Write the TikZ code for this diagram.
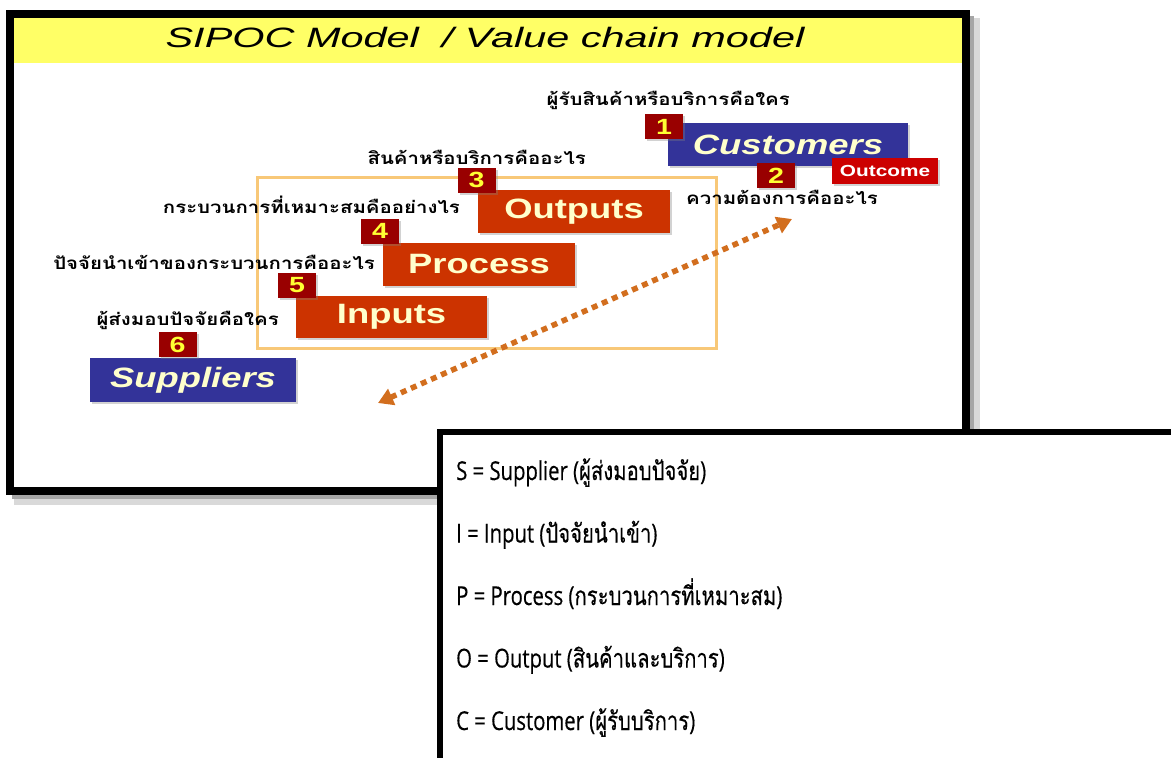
\documentclass[tikz,border=0pt]{standalone}
\usepackage{fontspec}
\setmainfont{Liberation Sans}
\newfontfamily\thaifont[Script=Thai]{Loma}
\newfontfamily\thaileg[Script=Thai,FakeBold=0.4]{Loma}
\newfontfamily\legfont[FakeBold=0.4]{Open Sans}
\usetikzlibrary{arrows.meta,shadows}
\definecolor{sred}{RGB}{204,51,0}
\definecolor{sblue}{RGB}{51,51,153}
\definecolor{numred}{RGB}{153,0,0}
\definecolor{numyel}{RGB}{255,255,51}
\definecolor{cream}{RGB}{255,255,204}
\definecolor{ored}{RGB}{204,0,0}
\definecolor{frameor}{RGB}{248,200,120}
\definecolor{arrowor}{RGB}{210,110,30}
\definecolor{titleyel}{RGB}{255,255,102}
\newcommand\hs[1]{\scalebox{1.3}[1]{#1}}
\newcommand\ths[1]{\scalebox{1.2}[1]{#1}}
\newcommand\tht[1]{{\thaileg\fontsize{26}{28}\selectfont #1}}
\tikzset{
  slidebox/.style={inner sep=0, drop shadow={shadow xshift=2pt, shadow yshift=-2pt, opacity=0.35}},
  redbox/.style={slidebox, fill=sred, text=cream, font=\bfseries\fontsize{28}{30}\selectfont, minimum width=192, minimum height=43},
  bluebox/.style={slidebox, fill=sblue, text=cream, font=\bfseries\itshape\fontsize{28}{30}\selectfont, minimum height=43},
  numbox/.style={slidebox, fill=numred, text=numyel, font=\bfseries\fontsize{22}{22}\selectfont, minimum width=38, minimum height=25},
  thlab/.style={inner sep=0, font=\thaifont\bfseries\fontsize{17}{18}\selectfont},
  legtext/.style={inner sep=0, anchor=base west, font=\legfont\fontsize{26}{28}\selectfont},
  arrowline/.style={draw=arrowor, line width=5.5, dash pattern=on 6pt off 5pt,
     {Triangle[length=15pt,width=17pt]}-{Triangle[length=15pt,width=17pt]}}
}
\begin{document}
\begin{tikzpicture}[x=1pt,y=-1pt]
\useasboundingbox (0,0) rectangle (1171,758);
\clip (0,0) rectangle (1171,758);
\fill[white] (0,0) rectangle (1171,758);
% main slide frame shadow
\fill[black!35] (970,16) rectangle (974,499);
\fill[black!15] (974,18) rectangle (980,501);
\fill[black!35] (12,495) rectangle (974,499);
\fill[black!15] (14,499) rectangle (980,505);
% slide
\fill[white] (10,14) rectangle (966,491);
\fill[titleyel] (14,17) rectangle (962,63);
\draw[line width=8] (10,14) rectangle (966,491);
\node[inner sep=0, font=\itshape\fontsize{28}{30}\selectfont] (title) at (485,37)
  {\scalebox{1.48}[1]{SIPOC Model\ \ / Value chain model}};
% orange frame
\draw[frameor, line width=3] (257,177) rectangle (716,348);
% boxes
\node[bluebox, minimum width=206, minimum height=44] (sup) at (193,380) {\hs{Suppliers}};
\node[redbox, minimum width=191, minimum height=42] (inp) at (391.5,317) {\hs{Inputs}};
\node[redbox] (pro) at (479,264.5) {\hs{Process}};
\node[redbox] (out) at (574,211.5) {\hs{Outputs}};
\node[bluebox, minimum width=240] (cus) at (788,144.5) {\hs{Customers}};
\node[slidebox, fill=ored, text=white, font=\bfseries\fontsize{16}{18}\selectfont, minimum width=106, minimum height=26] (outc) at (885,171) {\scalebox{1.3}[1]{Outcome}};
% numbers
\node[numbox] (n1) at (664,126.5) {\hs{1}};
\node[numbox] (n2) at (776,175.5) {\hs{2}};
\node[numbox] (n3) at (476.5,180) {\hs{3}};
\node[numbox] (n4) at (380,231) {\hs{4}};
\node[numbox] (n5) at (297,285) {\hs{5}};
\node[numbox] (n6) at (177.5,344.5) {\hs{6}};
% Thai labels
\node[thlab, anchor=east] (q1) at (790,100) {\ths{ผู้รับสินค้าหรือบริการคือใคร}};
\node[thlab, anchor=west] (q2) at (686,197) {\ths{ความต้องการคืออะไร}};
\node[thlab, anchor=east] (q3) at (586,157) {\ths{สินค้าหรือบริการคืออะไร}};
\node[thlab, anchor=east] (q4) at (460,205) {\ths{กระบวนการที่เหมาะสมคืออย่างไร}};
\node[thlab, anchor=east] (q5) at (375,262) {\ths{ปัจจัยนำเข้าของกระบวนการคืออะไร}};
\node[thlab, anchor=east] (q6) at (279,320) {\ths{ผู้ส่งมอบปัจจัยคือใคร}};
% double arrow
\coordinate (a1) at (378,403);
\coordinate (a2) at (792,219);
\draw[arrowline] (a1) -- (a2);
% legend box
\draw[line width=6, fill=white] (440,432) rectangle (1200,800);
\node[legtext] (l1) at (456,480) {\scalebox{0.78}[1]{S = Supplier (\tht{ผู้ส่งมอบปัจจัย})}};
\node[legtext] (l2) at (456,542.5) {\scalebox{0.78}[1]{I = Input (\tht{ปัจจัยนำเข้า})}};
\node[legtext] (l3) at (456,605) {\scalebox{0.78}[1]{P = Process (\tht{กระบวนการที่เหมาะสม})}};
\node[legtext] (l4) at (456,667.5) {\scalebox{0.78}[1]{O = Output (\tht{สินค้าและบริการ})}};
\node[legtext] (l5) at (456,730) {\scalebox{0.78}[1]{C = Customer (\tht{ผู้รับบริการ})}};
\end{tikzpicture}
\end{document}
